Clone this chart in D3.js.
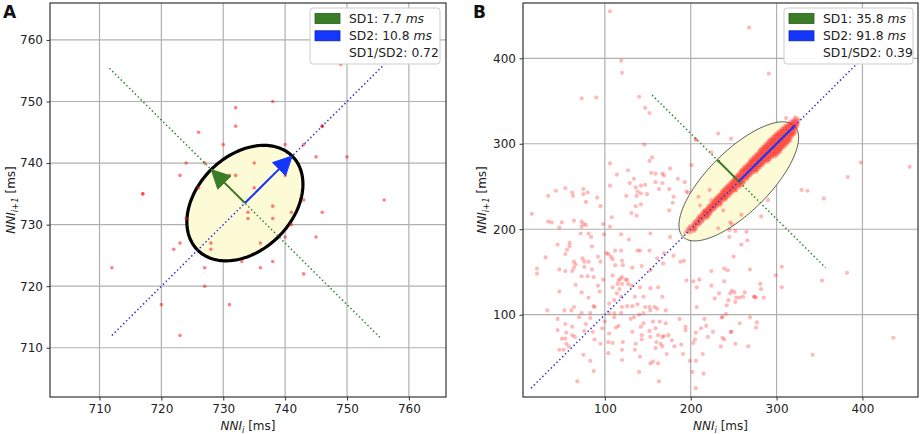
<!DOCTYPE html>
<html>
<head>
<meta charset="utf-8">
<script src="https://cdn.jsdelivr.net/npm/d3@7"></script>
<style>
  body { margin: 0; background: #fff; }
  svg { display: block; }
  text { font-family: "DejaVu Sans", sans-serif; }
</style>
</head>
<body>
<svg></svg>
<script>
let w = 923
let h = 434

// ---- panel A: pairs of successive NN intervals [NNi, NNi+1] in ms
const nniA = [
  [738,750],[732,749],[732,746],[746,746],[746,746],[726,745],[730,743],[740,743],[743,743],
  [745,741],[750,741],[724,740],[727,740],[735,740],[723,738],[731,738],[732,738],[740,738],
  [726,736],[735,736],[717,735],[717,735],[756,734],[743,734],[738,733],[734,732],[741,732],
  [746,732],[749,756],[724,731],[734,731],[738,731],[741,730],[740,728],[745,728],[722,726],
  [723,727],[728,727],[728,726],[736,727],[727,723],[733,724],[738,724],[736,723],[743,722],
  [712,723],[727,720],[720,717],[731,717],[723,712]
]
const ticksA = [710, 720, 730, 740, 750, 760]
const domainA = [702, 766]
const centerA = 733.5
const sdA = [7.7, 10.8]
const identityA = [712, 756]
const perpA = [711.6, 755.4]
const legendA = ['SD1: 7.7', 'SD2: 10.8', 'SD1/SD2: 0.72']

// ---- panel B: scattered pairs
const nniB = [
  [78,232],[95,227],[136,227],[142,229],[179,231],[15,218],[131,219],[137,216],[175,222],[108,214],
  [34,209],[38,208],[50,208],[64,210],[73,209],[75,206],[78,205],[98,206],[106,203],[47,202],[73,203],
  [72,195],[81,195],[99,194],[119,194],[153,195],[84,191],[45,182],[59,184],[59,180],[85,180],[128,188],[176,191],
  [56,176],[54,171],[102,172],[104,171],[112,175],[119,175],[138,175],[141,175],[152,175],[92,168],[107,168],[169,172],[180,169],
  [31,167],[64,162],[66,159],[74,166],[76,162],[81,162],[95,162],[109,165],[120,163],[188,162],[192,163],[161,166],
  [21,154],[47,153],[54,151],[62,151],[64,155],[76,156],[85,153],[112,158],[121,158],[132,155],[143,157],[168,160],[153,152],
  [21,148],[73,145],[80,145],[87,144],[109,146],[118,142],[120,144],[124,141],[126,141],[116,140],[98,141],[195,140],[203,139],[210,141],[224,151],
  [92,134],[115,136],[120,136],[127,136],[131,134],[141,132],[162,132],[66,135],[207,132],[109,132],[117,130],[153,131],[224,134],
  [47,127],[73,126],[94,127],[114,125],[119,121],[135,121],[145,121],[167,121],[81,120],[228,119],[233,125],[111,117],
  [64,109],[87,110],[88,109],[105,113],[120,109],[126,110],[132,110],[138,112],[147,109],[152,109],[158,109],[161,107],[171,105],
  [33,105],[53,105],[61,105],[73,102],[83,102],[105,102],[111,102],[119,102],[140,100],[145,102],[153,105],[207,109],
  [45,95],[70,97],[83,96],[111,97],[130,95],[134,97],[156,92],[164,92],[171,90],[142,86],[145,90],[116,87],[113,85],
  [54,89],[62,86],[78,89],[100,92],[187,95],[194,86],[216,95],[218,87],[236,97],
  [45,82],[62,76],[55,79],[65,74],[76,81],[86,80],[105,78],[97,84],[132,80],[143,76],[152,81],[159,84],[162,76],[167,74],
  [169,75],[174,76],[194,82],[206,79],[212,84],[226,80],
  [50,72],[54,72],[55,66],[88,71],[95,66],[104,68],[109,67],[121,68],[136,66],[143,71],[153,74],[160,68],[165,66],[167,63],
  [178,70],[181,63],[189,65],[203,67],[205,71],[220,74],
  [47,59],[52,59],[58,63],[75,53],[104,55],[120,59],[135,59],[159,61],[172,54],[191,54],[199,46],[206,46],[214,54],[235,63],
  [83,46],[120,47],[141,51],[156,45],[162,43],[153,43],[87,34],[68,22],[140,33],[163,22],[202,33],[215,31],[206,14],
  [106,455],[119,397],[120,383],[73,353],[90,354],[140,355],[147,342],[152,336],[232,312],[206,305],[206,305],[224,290],
  [146,299],[155,284],[152,280],[106,277],[127,269],[114,264],[154,266],[159,265],[167,265],[169,263],[176,271],[185,259],
  [201,275],[193,255],[134,259],[129,254],[136,249],[142,251],[147,252],[138,244],[142,242],[137,239],[149,241],[159,255],
  [163,247],[167,254],[106,251],[125,239],[54,248],[43,245],[62,243],[75,247],[80,243],[75,241],[63,239],[34,239],[91,237],
  [175,247],[180,238],[197,243],
  [268,436],[291,382],[398,278],[455,273],[383,261],[336,245],[355,236],
  [259,217],[248,206],[252,198],[245,191],[259,182],[266,187],[250,168],[239,154],[243,152],[269,153],[306,156],[299,146],
  [306,132],[353,140],[382,149],[239,139],[281,136],[282,130],[248,128],[251,126],[246,125],[263,126],[253,120],[257,120],
  [261,121],[274,121],[274,121],[276,120],[285,120],[244,117],[252,115],[242,111],[241,101],[237,97],[269,97],[277,91],
  [276,85],[257,90],[247,80],[247,80],[237,73],[239,71],[252,66],[267,63],[342,53],[436,73],
  [247,306],[195,244],[209,238],[222,246],[224,234],[211,228],[216,222],[238,222],[246,208],[232,201],[245,199],[265,197],
  [282,215],[290,234],[329,246],[322,331],[311,330]
]
// dense band along the identity line: [NNi+1, [NNi values]]
const denseB = [
  [196, [194, 199]],
  [200, [197, 203, 206]],
  [203, [199, 204]],
  [206, [203, 207, 210]],
  [209, [205, 209, 213]],
  [212, [208, 211, 215]],
  [215, [210, 213, 217, 220]],
  [218, [213, 216, 219, 222]],
  [221, [215, 218, 221, 224]],
  [224, [219, 222, 225, 228]],
  [227, [221, 224, 227, 230]],
  [230, [224, 227, 230, 233, 236]],
  [233, [227, 230, 233, 236]],
  [236, [229, 232, 235, 238, 241]],
  [239, [232, 235, 238, 241, 244]],
  [242, [235, 238, 241, 244, 247]],
  [245, [237, 240, 243, 246, 249, 252]],
  [248, [240, 243, 246, 249, 252]],
  [251, [243, 246, 249, 252, 255, 258]],
  [254, [246, 249, 252, 255, 258, 261]],
  [257, [249, 252, 255, 258, 261]],
  [260, [251, 254, 257, 260, 263, 266]],
  [263, [254, 257, 260, 263, 266, 269]],
  [266, [257, 260, 263, 266, 269, 272]],
  [269, [259, 262, 265, 268, 271, 274, 277]],
  [272, [262, 265, 268, 271, 274, 277, 280]],
  [275, [265, 268, 271, 274, 277, 280, 283]],
  [278, [268, 271, 274, 277, 280, 283, 286]],
  [281, [270, 273, 276, 279, 282, 285, 288, 291]],
  [284, [273, 276, 279, 282, 285, 288, 291, 294]],
  [287, [276, 279, 282, 285, 288, 291, 294, 297, 300]],
  [290, [279, 282, 285, 288, 291, 294, 297, 300, 303]],
  [293, [281, 284, 287, 290, 293, 296, 299, 302, 305]],
  [296, [284, 287, 290, 293, 296, 299, 302, 305, 308]],
  [299, [287, 290, 293, 296, 299, 302, 305, 308, 311]],
  [302, [290, 293, 296, 299, 302, 305, 308, 311, 314]],
  [305, [292, 295, 298, 301, 304, 307, 310, 313, 316]],
  [308, [296, 299, 302, 305, 308, 311, 314, 317]],
  [311, [299, 302, 305, 308, 311, 314, 317, 320]],
  [314, [302, 305, 308, 311, 314, 317, 320]],
  [317, [306, 309, 312, 315, 318, 321]],
  [320, [309, 312, 315, 318, 321, 324]],
  [323, [313, 316, 319, 322, 325]],
  [326, [317, 320, 323]],
  [329, [321, 325]]
]
// second, interleaved set of rows in the same band
const denseB2 = [
  [198, [196, 201, 204]],
  [201, [198, 202, 205]],
  [204, [201, 205, 208]],
  [207, [204, 208, 211]],
  [210, [206, 210, 214]],
  [213, [209, 212, 216, 219]],
  [216, [211, 215, 218, 221]],
  [219, [214, 217, 220, 223]],
  [222, [217, 220, 223, 226]],
  [225, [220, 223, 226, 229]],
  [228, [222, 225, 228, 231, 234]],
  [231, [225, 228, 231, 234]],
  [234, [228, 231, 234, 237, 240]],
  [237, [230, 233, 236, 239, 242]],
  [240, [233, 236, 239, 242, 245]],
  [243, [236, 239, 242, 245, 248]],
  [246, [238, 241, 244, 247, 250, 253]],
  [249, [241, 244, 247, 250, 253, 256]],
  [252, [244, 247, 250, 253, 256, 259]],
  [255, [247, 250, 253, 256, 259, 262]],
  [258, [250, 253, 256, 259, 262, 265]],
  [261, [252, 255, 258, 261, 264, 267]],
  [264, [255, 258, 261, 264, 267, 270]],
  [267, [258, 261, 264, 267, 270, 273, 276]],
  [270, [260, 263, 266, 269, 272, 275, 278]],
  [273, [263, 266, 269, 272, 275, 278, 281]],
  [276, [266, 269, 272, 275, 278, 281, 284]],
  [279, [269, 272, 275, 278, 281, 284, 287, 290]],
  [282, [271, 274, 277, 280, 283, 286, 289, 292]],
  [285, [274, 277, 280, 283, 286, 289, 292, 295, 298]],
  [288, [277, 280, 283, 286, 289, 292, 295, 298, 301]],
  [291, [280, 283, 286, 289, 292, 295, 298, 301, 304]],
  [294, [282, 285, 288, 291, 294, 297, 300, 303, 306]],
  [297, [285, 288, 291, 294, 297, 300, 303, 306, 309]],
  [300, [288, 291, 294, 297, 300, 303, 306, 309, 312]],
  [303, [291, 294, 297, 300, 303, 306, 309, 312, 315]],
  [306, [294, 297, 300, 303, 306, 309, 312, 315]],
  [309, [297, 300, 303, 306, 309, 312, 315, 318]],
  [312, [300, 303, 306, 309, 312, 315, 318, 321]],
  [315, [304, 307, 310, 313, 316, 319, 322]],
  [318, [307, 310, 313, 316, 319, 322]],
  [321, [311, 314, 317, 320, 323]],
  [324, [315, 318, 321, 324]],
  [327, [319, 322, 325]]
]
const ticksB = [100, 200, 300, 400]
const domainBx = [4.7, 464.7]
const domainBy = [3.7, 464.7]
const centerB = 256
const sdB = [35.8, 91.8]
const identityB = [14, 455]
const perpB = [155, 357]
const legendB = ['SD1: 35.8', 'SD2: 91.8', 'SD1/SD2: 0.39']

let green = '#3b7d27'
let blue = '#1536ff'

let svg = d3.select('svg').attr('width', w).attr('height', h)

let drawPanel = (p) => {
  let g = svg.append('g')
  let x = d3.scaleLinear().domain(p.xDomain).range([p.left, p.right])
  let y = d3.scaleLinear().domain(p.yDomain).range([p.bottom, p.top])

  let clipId = 'clip' + p.letter
  g.append('clipPath').attr('id', clipId).append('rect')
   .attr('x', p.left).attr('y', p.top).attr('width', p.right - p.left).attr('height', p.bottom - p.top)

  // grid
  g.selectAll('.gx').data(p.ticks).enter().append('line')
   .attr('x1', d => x(d)).attr('x2', d => x(d)).attr('y1', p.top).attr('y2', p.bottom)
   .attr('stroke', '#b0b0b0').attr('stroke-width', 1.2)
  g.selectAll('.gy').data(p.ticks).enter().append('line')
   .attr('y1', d => y(d)).attr('y2', d => y(d)).attr('x1', p.left).attr('x2', p.right)
   .attr('stroke', '#b0b0b0').attr('stroke-width', 1.2)

  let plot = g.append('g').attr('clip-path', 'url(#' + clipId + ')')

  // SD ellipse, rotated 45 degrees around the mean
  let c = p.center
  let ell = d3.range(0, 361, 2).map(a => {
    let t = a * Math.PI / 180
    let u = p.sd[1] * Math.cos(t), v = p.sd[0] * Math.sin(t)
    return [c + (u - v) / Math.SQRT2, c + (u + v) / Math.SQRT2]
  })
  let line = d3.line().x(d => x(d[0])).y(d => y(d[1]))
  plot.append('path').attr('d', line(ell) + 'Z')
      .attr('fill', '#fdfad6').attr('stroke', p.ellStroke).attr('stroke-width', p.ellWidth)

  // points
  plot.selectAll('.pt').data(p.points).enter().append('circle')
      .attr('cx', d => x(d[0])).attr('cy', d => y(d[1])).attr('r', p.r)
      .attr('fill', '#ff1a1a').attr('fill-opacity', p.alpha)

  // identity and perpendicular dotted lines
  plot.append('line')
      .attr('x1', x(p.identity[0])).attr('y1', y(p.identity[0]))
      .attr('x2', x(p.identity[1])).attr('y2', y(p.identity[1]))
      .attr('stroke', '#3434d0').attr('stroke-width', 1.5).attr('stroke-dasharray', '1.5,2.5')
  plot.append('line')
      .attr('x1', x(p.perp[0])).attr('y1', y(p.perp[1]))
      .attr('x2', x(p.perp[1])).attr('y2', y(p.perp[0]))
      .attr('stroke', '#2f8a2f').attr('stroke-width', 1.5).attr('stroke-dasharray', '1.5,2.5')

  // SD arrows, head size 3 ms
  let arrow = (dx, dy, len, color) => {
    let tip = [c + dx * len, c + dy * len]
    let base = [tip[0] - dx * 3, tip[1] - dy * 3]
    let n = [-dy, dx]
    plot.append('line')
        .attr('x1', x(c)).attr('y1', y(c)).attr('x2', x(base[0])).attr('y2', y(base[1]))
        .attr('stroke', color).attr('stroke-width', 2)
    let head = [tip, [base[0] + n[0] * 1.5, base[1] + n[1] * 1.5], [base[0] - n[0] * 1.5, base[1] - n[1] * 1.5]]
    plot.append('path').attr('d', line(head) + 'Z').attr('fill', color).attr('stroke', color).attr('stroke-width', 1)
  }
  arrow(-Math.SQRT1_2, Math.SQRT1_2, p.sd[0], green)
  arrow(Math.SQRT1_2, Math.SQRT1_2, p.sd[1], blue)

  // axes
  let styleAxis = (a) => {
    a.select('.domain').remove()
    a.selectAll('.tick line').attr('stroke', '#333').attr('stroke-width', 1)
    a.selectAll('.tick text').attr('font-size', 12).attr('fill', '#222')
     .attr('font-family', '"DejaVu Sans", sans-serif')
  }
  g.append('g').attr('transform', 'translate(0,' + p.bottom + ')')
   .call(d3.axisBottom(x).tickValues(p.ticks).tickSize(3.5).tickPadding(3.5).tickFormat(d3.format('d')))
   .call(styleAxis)
  g.append('g').attr('transform', 'translate(' + p.left + ',0)')
   .call(d3.axisLeft(y).tickValues(p.ticks).tickSize(3.5).tickPadding(3.5).tickFormat(d3.format('d')))
   .call(styleAxis)

  g.append('rect').attr('x', p.left).attr('y', p.top)
   .attr('width', p.right - p.left).attr('height', p.bottom - p.top)
   .attr('fill', 'none').attr('stroke', '#333').attr('stroke-width', 1.2)

  // axis labels
  let xl = g.append('text').attr('x', (p.left + p.right) / 2).attr('y', 430)
            .attr('text-anchor', 'middle').attr('font-size', 12).attr('fill', '#222')
  xl.append('tspan').attr('font-style', 'italic').text('NNI')
  xl.append('tspan').attr('font-style', 'italic').attr('font-size', 8.5).attr('dy', 2.5).text('i')
  xl.append('tspan').attr('dy', -2.5).text(' [ms]')

  let yl = g.append('text')
            .attr('transform', 'translate(' + p.ylabelX + ',' + (p.top + p.bottom) / 2 + ') rotate(-90)')
            .attr('text-anchor', 'middle').attr('font-size', 12).attr('fill', '#222')
  yl.append('tspan').attr('font-style', 'italic').text('NNI')
  yl.append('tspan').attr('font-style', 'italic').attr('font-size', 8.5).attr('dy', 2.5).text('i+1')
  yl.append('tspan').attr('dy', -2.5).text(' [ms]')

  // panel letter
  g.append('text').attr('x', p.letterX).attr('y', 18)
   .attr('font-size', 17).attr('font-weight', 'bold').attr('fill', '#111').text(p.letter)

  // legend
  let lg = g.append('g').attr('transform', 'translate(' + p.legX + ',8)')
  lg.append('rect').attr('width', p.legW).attr('height', 56).attr('rx', 3)
    .attr('fill', '#fff').attr('fill-opacity', 0.92).attr('stroke', '#cccccc')
  let colors = [green, blue]
  let edges = ['#2a5c1a', '#0d22a8']
  p.legend.forEach((t, i) => {
    if (i < 2) {
      lg.append('rect').attr('x', 5).attr('y', 5.5 + i * 17.3).attr('width', 25).attr('height', 10)
        .attr('fill', colors[i]).attr('stroke', edges[i]).attr('stroke-width', 0.8)
    }
    let tx = lg.append('text').attr('x', 39).attr('y', 14.5 + i * 17.3)
               .attr('font-size', 12.3).attr('fill', '#222').text(t)
    if (i < 2) tx.append('tspan').attr('font-style', 'italic').text(' ms')
  })
}

let rowsToPoints = (rows) => rows.flatMap(r => r[1].map(v => [v, r[0]]))
let pointsB = nniB.concat(rowsToPoints(denseB), rowsToPoints(denseB2))

drawPanel({
  letter: 'A', letterX: 3,
  left: 50, right: 446, top: 3, bottom: 397,
  xDomain: domainA, yDomain: domainA, ticks: ticksA,
  points: nniA, r: 1.8, alpha: 0.55,
  center: centerA, sd: sdA, identity: identityA, perp: perpA,
  ellStroke: '#000', ellWidth: 3.2,
  ylabelX: 15, legX: 310, legW: 130, legend: legendA
})

drawPanel({
  letter: 'B', letterX: 473,
  left: 523, right: 918, top: 3, bottom: 397,
  xDomain: domainBx, yDomain: domainBy, ticks: ticksB,
  points: pointsB, r: 2.1, alpha: 0.3,
  center: centerB, sd: sdB, identity: identityB, perp: perpB,
  ellStroke: '#333', ellWidth: 0.8,
  ylabelX: 486, legX: 784, legW: 129, legend: legendB
})
</script>
</body>
</html>
